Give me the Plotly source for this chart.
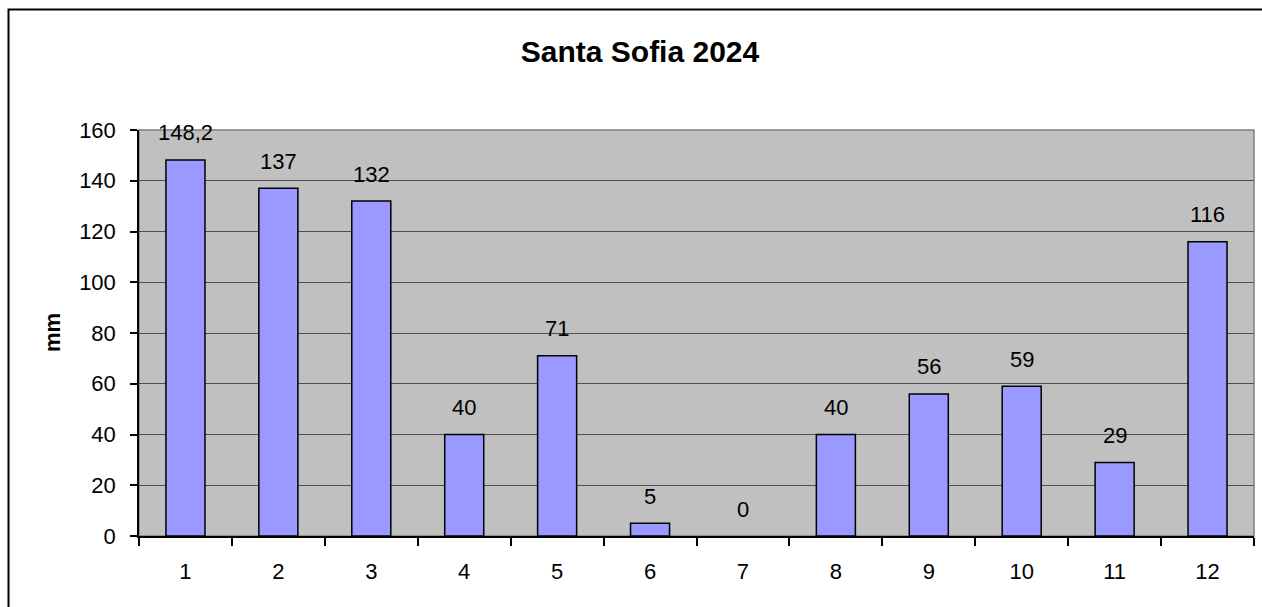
import plotly.graph_objects as go

months = ["1", "2", "3", "4", "5", "6", "7", "8", "9", "10", "11", "12"]
rain_mm = [148.2, 137, 132, 40, 71, 5, 0, 40, 56, 59, 29, 116]
labels = ["148,2", "137", "132", "40", "71", "5", "0", "40", "56", "59", "29", "116"]

W, H = 1262, 607
L, R, T, B = 139, 8, 130, 71
pw, ph = W - L - R, H - T - B
FONT = "Liberation Sans, Arial"

fig = go.Figure()
fig.add_trace(go.Bar(
    x=months, y=rain_mm,
    marker=dict(color="#9999FF",
                line=dict(color="#000000", width=[1.5 if v > 0 else 0 for v in rain_mm])),
    hoverinfo="x+y",
))

for i, (v, t) in enumerate(zip(rain_mm, labels)):
    fig.add_annotation(x=i, y=v, text=t, showarrow=False, yanchor="middle",
                       yshift=27, font=dict(family=FONT, size=22, color="#000"))

# y-axis title
fig.add_annotation(xref="paper", yref="paper", x=0, y=0.5, xshift=52 - L,
                   text="<b>mm</b>", textangle=-90, showarrow=False,
                   xanchor="center", yanchor="middle",
                   font=dict(family=FONT, size=22, color="#000"))

# plot area gray frame
fig.add_shape(type="rect", xref="paper", yref="paper", x0=0, y0=0, x1=1, y1=1,
              line=dict(color="#808080", width=1.5), layer="below")
# outer chart border
fig.add_shape(type="rect", xref="paper", yref="paper",
              x0=(8.5 - L) / pw, y0=-(B + 20) / ph,
              x1=(W + 20 - L) / pw, y1=(H - 9.5 - B) / ph,
              line=dict(color="#000000", width=2), layer="above")

fig.update_layout(
    width=W, height=H,
    margin=dict(l=L, r=R, t=T, b=B, autoexpand=False),
    paper_bgcolor="white", plot_bgcolor="#C0C0C0",
    bargap=0.58,
    showlegend=False,
    title=dict(text="<b>Santa Sofia 2024</b>", x=640 / W, xanchor="center",
               y=1 - 51 / H, yanchor="middle",
               font=dict(family=FONT, size=30, color="#000")),
    font=dict(family=FONT, size=22, color="#000"),
)
fig.update_xaxes(
    type="category", tickson="boundaries", ticks="outside", ticklen=8, tickwidth=1.5,
    tickcolor="#000", showline=True, linecolor="#000", linewidth=1.5,
    showgrid=False, ticklabelstandoff=15,
    tickfont=dict(size=22), range=[-0.5, 11.5],
)
fig.update_yaxes(
    range=[0, 160], dtick=20, tick0=0, ticks="outside", ticklen=7, tickwidth=1.5,
    tickcolor="#000", showline=True, linecolor="#000", linewidth=1.5,
    showgrid=True, gridcolor="#505050", gridwidth=1, zeroline=False,
    ticklabelstandoff=10, tickfont=dict(size=22),
)
fig.write_html("out.html", config={"displayModeBar": False},
               post_script="document.body.style.margin='0';document.body.style.overflow='hidden';")
